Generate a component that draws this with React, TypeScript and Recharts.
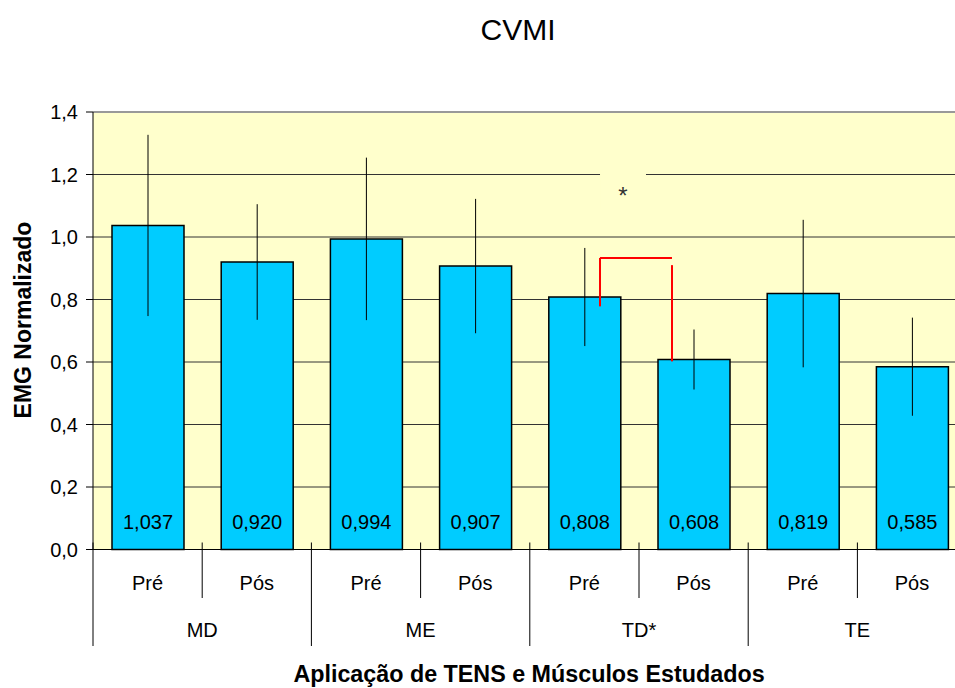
import React from 'react';
import {
  BarChart, Bar, XAxis, YAxis, CartesianGrid, ErrorBar, LabelList,
  ReferenceLine, ReferenceArea, Label,
} from 'recharts';

const musculos = ['MD', 'ME', 'TD*', 'TE'];
const fases = ['Pré', 'Pós'];
const medias = [1.037, 0.92, 0.994, 0.907, 0.808, 0.608, 0.819, 0.585];
const desvios = [0.29, 0.185, 0.26, 0.215, 0.157, 0.096, 0.236, 0.157];
const yTicks = [0, 0.2, 0.4, 0.6, 0.8, 1.0, 1.2, 1.4];

// significance bracket for TD (x in category units, y in EMG units)
const bracketX = [4.643, 5.302];
const bracketY = [0.778, 0.933, 0.91, 0.602];

const rows = musculos.flatMap((m, i) =>
  fases.map((f, j) => ({
    id: `${m}-${f}`,
    musculo: m,
    fase: f,
    pos: i * 2 + j + 0.5,
    media: medias[i * 2 + j],
    dp: desvios[i * 2 + j],
  }))
);

const FONT = '"Liberation Sans", Arial, sans-serif';
const BAND = 109.2;

const comma = (v: number, d: number) => v.toFixed(d).replace('.', ',');

const CatTick = (props: any) => {
  const { x, y, payload, index } = props;
  const row = rows.find((r) => r.id === payload.value) || rows[index];
  const left = x - BAND / 2;
  const isPre = row.fase === 'Pré';
  return (
    <g>
      <line x1={left} x2={left} y1={y - 7} y2={y + (isPre ? 96.5 : 48.5)} stroke="#000" strokeWidth={1} />
      <text x={x} y={y + 40} textAnchor="middle" fontSize={20} fill="#000" fontFamily={FONT}>
        {row.fase}
      </text>
      {isPre && (
        <text x={x + BAND / 2} y={y + 87} textAnchor="middle" fontSize={20} fill="#000" fontFamily={FONT}>
          {row.musculo}
        </text>
      )}
    </g>
  );
};

const ValueLabel = (props: any) => {
  const { x, y, width, height, value } = props;
  return (
    <text x={x + width / 2} y={y + height - 20.5} textAnchor="middle" fontSize={20} fill="#000" fontFamily={FONT}>
      {comma(value, 3)}
    </text>
  );
};

const App = () => {
  return (
    <div style={{ position: 'absolute', left: 0, top: 0, width: 955, height: 688, overflow: 'hidden', background: '#fff', fontFamily: FONT }}>
      <div style={{ position: 'absolute', left: 418, top: 15, width: 200, textAlign: 'center', fontSize: 30, lineHeight: '30px', color: '#000' }}>
        CVMI
      </div>
      <BarChart
        width={980}
        height={688}
        data={rows}
        margin={{ top: 112, right: 13.4, left: 0, bottom: 0 }}
        barSize={72}
        style={{ fontFamily: FONT }}
      >
        <CartesianGrid vertical={false} stroke="#333" fill="#FFFFCC" />
        <XAxis
          dataKey="id"
          height={138.5}
          interval={0}
          tickSize={0}
          tickMargin={0}
          tickLine={false}
          axisLine={{ stroke: '#000' }}
          tick={<CatTick />}
        >
          <Label
            content={() => (
              <text x={529} y={682} textAnchor="middle" fontSize={23.3} fontWeight="bold" fill="#000" fontFamily={FONT}>
                Aplicação de TENS e Músculos Estudados
              </text>
            )}
          />
        </XAxis>
        <XAxis xAxisId="n" dataKey="pos" type="number" domain={[0, 8]} allowDataOverflow hide />
        <YAxis
          width={93}
          domain={[0, 1.4]}
          ticks={yTicks}
          tickSize={7}
          tickMargin={8}
          tickFormatter={(v: number) => comma(v, 1)}
          tick={{ fontSize: 20, fill: '#000' }}
          axisLine={{ stroke: '#000' }}
          tickLine={{ stroke: '#000' }}
        >
          <Label
            content={() => (
              <text
                x={23}
                y={320}
                transform="rotate(-90 23 320)"
                textAnchor="middle"
                dominantBaseline="central"
                fontSize={23}
                fontWeight="bold"
                fill="#000"
                fontFamily={FONT}
              >
                EMG Normalizado
              </text>
            )}
          />
        </YAxis>
        <ReferenceLine y={1.4} stroke="#999" strokeWidth={2} />
        <ReferenceArea
          xAxisId="n"
          x1={4.643}
          x2={5.064}
          y1={1.09}
          y2={1.215}
          fill="#FFFFCC"
          fillOpacity={1}
          stroke="none"
          label={{ value: '*', position: 'center', fontSize: 24, fill: '#333', dy: 6 }}
        />
        <Bar dataKey="media" fill="#00CCFF" stroke="#000" strokeWidth={1.5} isAnimationActive={false}>
          <ErrorBar dataKey="dp" width={0} stroke="#000" strokeWidth={1} direction="y" />
          <LabelList dataKey="media" content={<ValueLabel />} />
        </Bar>
        <ReferenceLine
          xAxisId="n"
          segment={[{ x: bracketX[0], y: bracketY[0] }, { x: bracketX[0], y: bracketY[1] }]}
          stroke="#FF0000"
          strokeWidth={2}
        />
        <ReferenceLine
          xAxisId="n"
          segment={[{ x: bracketX[0], y: bracketY[1] }, { x: bracketX[1], y: bracketY[1] }]}
          stroke="#FF0000"
          strokeWidth={2}
        />
        <ReferenceLine
          xAxisId="n"
          segment={[{ x: bracketX[1], y: bracketY[2] }, { x: bracketX[1], y: bracketY[3] }]}
          stroke="#FF0000"
          strokeWidth={2}
        />
      </BarChart>
    </div>
  );
};

export default App;
